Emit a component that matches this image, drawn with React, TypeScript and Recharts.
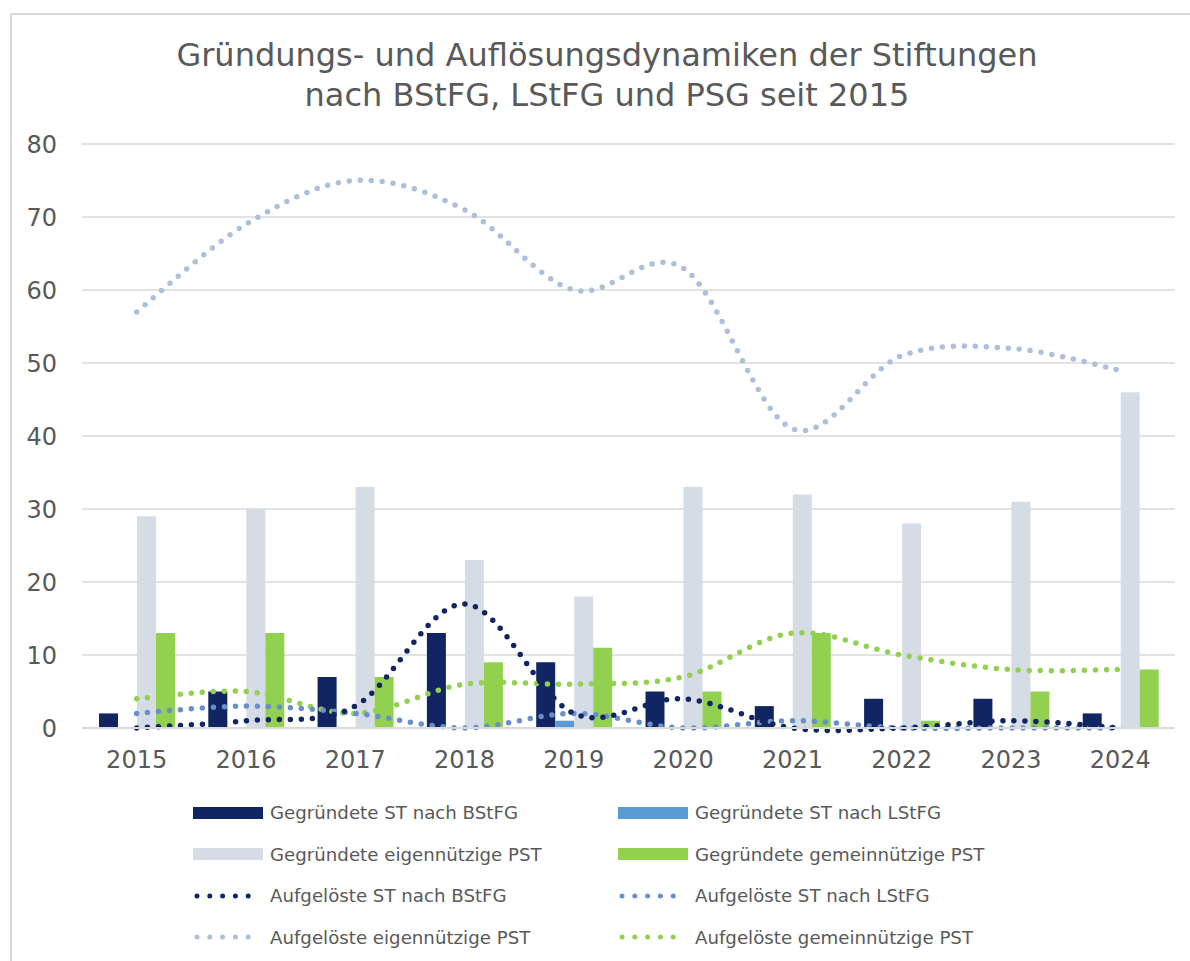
import { Bar, CartesianGrid, ComposedChart, Line, XAxis, YAxis } from "recharts";

const years = ["2015", "2016", "2017", "2018", "2019", "2020", "2021", "2022", "2023", "2024"];

// Gegründete Stiftungen (Balken)
const gegrBStFG = [2, 5, 7, 13, 9, 5, 3, 4, 4, 2];
const gegrLStFG = [0, 0, 0, 0, 1, 0, 0, 0, 0, 0];
const gegrEigen = [29, 30, 33, 23, 18, 33, 32, 28, 31, 46];
const gegrGemein = [13, 13, 7, 9, 11, 5, 13, 1, 5, 8];

// Aufgelöste Stiftungen (Linien)
const aufgBStFG = [0, 1, 3, 17, 2, 4, 0, 0, 1, 0];
const aufgLStFG = [2, 3, 2, 0, 2, 0, 1, 0, 0, 0];
const aufgEigen = [57, 69, 75, 71, 60, 63, 41, 51, 52, 49];
const aufgGemein = [4, 5, 2, 6, 6, 7, 13, 10, 8, 8];

const yTicks = [0, 10, 20, 30, 40, 50, 60, 70, 80];

const data = years.map((year, i) => ({
    year,
    gegrBStFG: gegrBStFG[i],
    gegrLStFG: gegrLStFG[i],
    gegrEigen: gegrEigen[i],
    gegrGemein: gegrGemein[i],
    aufgBStFG: aufgBStFG[i],
    aufgLStFG: aufgLStFG[i],
    aufgEigen: aufgEigen[i],
    aufgGemein: aufgGemein[i],
}));

const FONT = "'DejaVu Sans', Verdana, sans-serif";
const TEXT = "#595959";

const legendItems = [
    { label: "Gegründete ST nach BStFG", color: "#112562", dotted: false },
    { label: "Gegründete ST nach LStFG", color: "#5B9BD5", dotted: false },
    { label: "Gegründete eigennützige PST", color: "#D6DCE5", dotted: false },
    { label: "Gegründete gemeinnützige PST", color: "#92D050", dotted: false },
    { label: "Aufgelöste ST nach BStFG", color: "#112562", dotted: true },
    { label: "Aufgelöste ST nach LStFG", color: "#6A8FC8", dotted: true },
    { label: "Aufgelöste eigennützige PST", color: "#ADBFDA", dotted: true },
    { label: "Aufgelöste gemeinnützige PST", color: "#92D050", dotted: true },
];

// Excel-like smoothing (Catmull-Rom through the points)
const smooth = (context: any) => {
    let pts: number[][] = [];
    return {
        areaStart() { },
        areaEnd() { },
        lineStart() { pts = []; },
        point(x: number, y: number) { pts.push([+x, +y]); },
        lineEnd() {
            if (!pts.length) return;
            context.moveTo(pts[0][0], pts[0][1]);
            for (let i = 0; i < pts.length - 1; i++) {
                const p0 = pts[i - 1] || pts[i];
                const p1 = pts[i];
                const p2 = pts[i + 1];
                const p3 = pts[i + 2] || pts[i + 1];
                context.bezierCurveTo(
                    p1[0] + (p2[0] - p0[0]) / 6, p1[1] + (p2[1] - p0[1]) / 6,
                    p2[0] - (p3[0] - p1[0]) / 6, p2[1] - (p3[1] - p1[1]) / 6,
                    p2[0], p2[1]);
            }
        },
    };
};

const LegendIcon = ({ color, dotted }: { color: string, dotted: boolean }) => (
    <svg width={70} height={14} style={{ display: "block" }}>
        {dotted
            ? <line x1={4} y1={7} x2={68} y2={7} stroke={color} strokeWidth={5} strokeLinecap="round" strokeDasharray="0 12.8" />
            : <rect x={0} y={1} width={70} height={12} fill={color} />}
    </svg>
);

const dotted = { strokeWidth: 5.5, strokeLinecap: "round" as const, strokeDasharray: "0 11" };

export default function App() {
    return (
        <div style={{ position: "absolute", left: 0, top: 0, width: 1190, height: 961, background: "#fff", fontFamily: FONT, overflow: "hidden" }}>
            <div style={{ position: "absolute", left: 10, top: 13, width: 1200, height: 960, borderLeft: "2px solid #d9d9d9", borderTop: "2px solid #d9d9d9" }} />
            <div style={{ position: "absolute", left: 0, top: 35, width: 1214, textAlign: "center", fontSize: 32, lineHeight: "40px", color: TEXT }}>
                Gründungs- und Auflösungsdynamiken der Stiftungen<br />
                nach BStFG, LStFG und PSG seit 2015
            </div>
            <div style={{ position: "absolute", left: 0, top: 0 }}>
                <ComposedChart width={1190} height={780} data={data}
                    margin={{ top: 144, right: 15, left: 0, bottom: 2 }}
                    barGap={0} barSize={19}>
                    <CartesianGrid vertical={false} stroke="#d9d9d9" strokeWidth={1.5} />
                    <XAxis dataKey="year" height={50} tickLine={false} tickSize={0} tickMargin={23}
                        axisLine={{ stroke: "#d9d9d9", strokeWidth: 2 }}
                        tick={{ fill: TEXT, fontSize: 24, fontFamily: FONT }} />
                    <YAxis width={82} domain={[0, 80]} ticks={yTicks} axisLine={false} tickLine={false}
                        tickSize={0} tickMargin={25}
                        tick={{ fill: TEXT, fontSize: 24, fontFamily: FONT }} />
                    <Bar dataKey="gegrBStFG" fill="#112562" isAnimationActive={false} />
                    <Bar dataKey="gegrLStFG" fill="#5B9BD5" isAnimationActive={false} />
                    <Bar dataKey="gegrEigen" fill="#D6DCE5" isAnimationActive={false} />
                    <Bar dataKey="gegrGemein" fill="#92D050" isAnimationActive={false} />
                    <Line type={smooth as any} dataKey="aufgEigen" stroke="#ADBFDA" {...dotted} dot={false} activeDot={false} isAnimationActive={false} />
                    <Line type={smooth as any} dataKey="aufgGemein" stroke="#92D050" {...dotted} dot={false} activeDot={false} isAnimationActive={false} />
                    <Line type={smooth as any} dataKey="aufgLStFG" stroke="#6A8FC8" {...dotted} dot={false} activeDot={false} isAnimationActive={false} />
                    <Line type={smooth as any} dataKey="aufgBStFG" stroke="#112562" {...dotted} dot={false} activeDot={false} isAnimationActive={false} />
                </ComposedChart>
            </div>
            <div style={{ position: "absolute", left: 193, top: 792, display: "grid", gridTemplateColumns: "425px 425px", rowGap: 0 }}>
                {legendItems.map((item) => (
                    <div key={item.label} style={{ display: "flex", alignItems: "center", height: 41.5, gap: 7 }}>
                        <LegendIcon color={item.color} dotted={item.dotted} />
                        <span style={{ fontSize: 18.2, color: TEXT, whiteSpace: "nowrap" }}>{item.label}</span>
                    </div>
                ))}
            </div>
        </div>
    );
}
